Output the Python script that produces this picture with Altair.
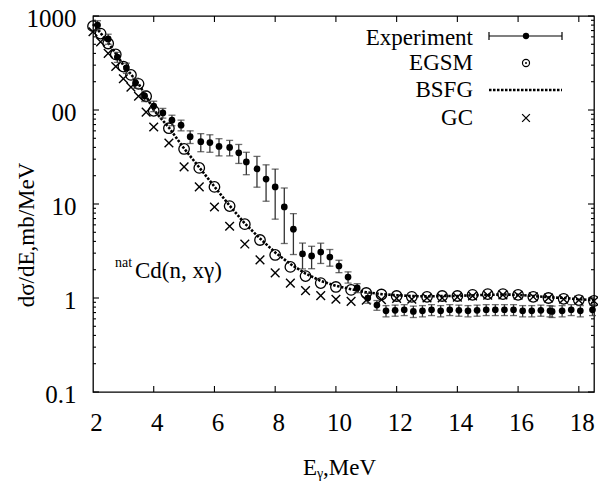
import altair as alt
import pandas as pd

# ---------------- data ----------------
exp_e = [2.15, 2.5, 2.8, 3.1, 3.4, 3.7, 4.0, 4.3, 4.6, 4.9, 5.2, 5.55, 5.85, 6.15,
         6.5, 6.8, 7.05, 7.4, 7.7, 8.0, 8.3, 8.6, 8.9, 9.2, 9.5, 9.8, 10.1, 10.4,
         10.7, 11.05, 11.35, 11.65, 11.95, 12.25, 12.55, 12.85, 13.15, 13.45, 13.75,
         14.05, 14.35, 14.65, 14.95, 15.25, 15.55, 15.85, 16.15, 16.45, 16.75,
         17.05, 17.12, 17.45, 17.75, 18.05, 18.45]
exp_v = [800, 570, 366, 280, 194, 141, 110, 93, 78, 69, 52, 46, 45, 41,
         40, 35, 28, 23.6, 18.4, 15.2, 9.3, 5.4, 2.94, 2.8, 3.08, 2.73, 2.19, 1.67,
         1.28, 1.0, 0.84, 0.73, 0.74, 0.75, 0.72, 0.73, 0.75, 0.73, 0.75,
         0.74, 0.73, 0.74, 0.75, 0.75, 0.75, 0.75, 0.73, 0.73, 0.74,
         0.73, 0.72, 0.73, 0.75, 0.73, 0.75]
exp_err = [90, 70, 45, 35, 24, 18, 14, 11, 10, 9, 8, 10, 9.5, 8.5,
           7.5, 8, 7.5, 8.5, 7.7, 8.3, 5.5, 2.5, 0.9, 0.75, 0.75, 0.55, 0.33, 0.23,
           0.14, 0.12, 0.1, 0.1, 0.1, 0.1, 0.1, 0.1, 0.1, 0.1, 0.1,
           0.1, 0.1, 0.1, 0.1, 0.1, 0.1, 0.1, 0.1, 0.1, 0.1,
           0.1, 0.1, 0.1, 0.1, 0.1, 0.1]

model_e = [2.0, 2.25, 2.5, 2.75, 3.0, 3.25, 3.5, 3.75, 4.0, 4.5, 5.0, 5.5, 6.0,
           6.5, 7.0, 7.5, 8.0, 8.5, 9.0, 9.5, 10.0, 10.5, 11.0, 11.5, 12.0, 12.5,
           13.0, 13.5, 14.0, 14.5, 15.0, 15.5, 16.0, 16.5, 17.0, 17.5, 18.0, 18.5]
egsm_v = [780, 650, 510, 390, 290, 236, 190, 140, 98, 64, 38.5, 24.2, 15.2,
          9.5, 6.1, 4.14, 2.87, 2.14, 1.71, 1.44, 1.31, 1.22, 1.13, 1.09, 1.05, 1.03,
          1.03, 1.05, 1.05, 1.08, 1.10, 1.10, 1.08, 1.03, 1.0, 0.98, 0.95, 0.93]
bsfg_v = [820, 660, 520, 400, 300, 240, 190, 140, 100, 65, 39, 24.5, 15.3,
          9.6, 6.2, 4.3, 3.05, 2.3, 1.82, 1.52, 1.35, 1.24, 1.15, 1.1, 1.07, 1.05,
          1.04, 1.05, 1.05, 1.07, 1.08, 1.09, 1.08, 1.05, 1.02, 1.0, 0.97, 0.95]
gc_v = [680, 530, 400, 290, 215, 175, 140, 95, 66, 44.6, 24.8, 15.2, 9.3,
        5.8, 3.75, 2.54, 1.85, 1.44, 1.2, 1.06, 0.97, 0.92, 0.95, 0.96, 0.99, 0.97,
        1.0, 1.0, 1.02, 1.05, 1.07, 1.08, 1.07, 1.03, 1.0, 0.97, 0.95, 0.93]

x_ticks = [2, 4, 6, 8, 10, 12, 14, 16, 18]
y_ticks = [0.1, 1, 10, 100, 1000]
y_tick_labels = ["0.1", "1", "10", "00", "1000"]
y_minor = [m * 10.0 ** k for k in range(-1, 3) for m in range(2, 10)]
legend_labels = ["Experiment", "EGSM", "BSFG", "GC"]
y_title = "dσ/dE,mb/MeV"
reaction_sup = "nat"
reaction = "Cd(n, xγ)"

# ---------------- chart ----------------
FONT = "'Liberation Serif', 'DejaVu Serif', serif"
W, H = 501, 376

exp = pd.DataFrame({"e": exp_e, "v": exp_v, "err": exp_err})
exp["lo"] = exp["v"] - exp["err"]
exp["hi"] = exp["v"] + exp["err"]
mod = pd.DataFrame({"e": model_e, "egsm": egsm_v, "bsfg": bsfg_v, "gc": gc_v})
one = pd.DataFrame({"k": [0]})

xs = alt.Scale(domain=[2, 18.5], nice=False, zero=False)
ys = alt.Scale(type="log", domain=[0.1, 1000], nice=False)

label_expr = " : ".join(
    f"datum.value < {v * 1.01} ? '{lab}'" for v, lab in zip(y_ticks, y_tick_labels)
) + " : ''"

x_axis = alt.Axis(values=x_ticks, title=None, grid=False, domain=False, tickSize=0,
                  labelFont=FONT, labelFontSize=25, labelColor="black",
                  labelPadding=18, labelFlush=False, labelOffset=3)
y_axis = alt.Axis(values=y_ticks, title=None, grid=False, domain=False, tickSize=0,
                  labelFont=FONT, labelFontSize=25, labelColor="black",
                  labelPadding=17, labelExpr=label_expr, labelOffset=2)


def X(f):
    return alt.X(f"{f}:Q", scale=xs, axis=x_axis)


def Y(f):
    return alt.Y(f"{f}:Q", scale=ys, axis=y_axis)


layers = []

# tick marks (inward) on all four sides
ymaj = pd.DataFrame({"y": y_ticks})
ymin = pd.DataFrame({"y": y_minor})
xt = pd.DataFrame({"x": x_ticks[1:]})
tick_style = dict(color="black", strokeWidth=1.1)
layers += [
    alt.Chart(ymaj).mark_rule(**tick_style).encode(y=Y("y"), x=alt.value(0), x2=alt.value(6)),
    alt.Chart(ymin).mark_rule(**tick_style).encode(y=Y("y"), x=alt.value(0), x2=alt.value(3)),
    alt.Chart(ymaj).mark_rule(**tick_style).encode(y=Y("y"), x=alt.value(W), x2=alt.value(W - 6)),
    alt.Chart(ymin).mark_rule(**tick_style).encode(y=Y("y"), x=alt.value(W), x2=alt.value(W - 3)),
    alt.Chart(xt).mark_rule(**tick_style).encode(x=X("x"), y=alt.value(H), y2=alt.value(H - 6)),
    alt.Chart(xt).mark_rule(**tick_style).encode(x=X("x"), y=alt.value(0), y2=alt.value(6)),
]

# BSFG dotted line
layers.append(
    alt.Chart(mod).mark_line(color="black", strokeWidth=2.6, strokeDash=[2.5, 1.5]).encode(
        x=X("e"), y=Y("bsfg"))
)
# EGSM open circles
layers.append(
    alt.Chart(mod).mark_point(shape="circle", filled=False, color="black", size=110,
                              strokeWidth=1.3, opacity=1).encode(x=X("e"), y=Y("egsm"))
)
# GC crosses
cross = "M-1,-1L1,1M-1,1L1,-1"
layers.append(
    alt.Chart(mod).mark_point(shape=cross, filled=False, color="black", size=75,
                              strokeWidth=1.4, opacity=1).encode(x=X("e"), y=Y("gc"))
)
# Experiment error bars + points
layers += [
    alt.Chart(exp).mark_rule(color="#333", strokeWidth=1.3).encode(
        x=X("e"), y=Y("lo"), y2=alt.Y2("hi")),
    alt.Chart(exp).mark_tick(orient="horizontal", size=7, thickness=1.3, color="#333").encode(
        x=X("e"), y=Y("hi")),
    alt.Chart(exp).mark_tick(orient="horizontal", size=7, thickness=1.3, color="#333").encode(
        x=X("e"), y=Y("lo")),
    alt.Chart(exp).mark_point(shape="circle", filled=True, color="black", size=45,
                              opacity=1).encode(x=X("e"), y=Y("v")),
]

# ---------------- legend (drawn by hand) ----------------
leg_y = [22, 47, 74, 102]
for lab, yy in zip(legend_labels, leg_y):
    layers.append(
        alt.Chart(one).mark_text(text=lab, font=FONT, fontSize=23, color="black",
                                 align="right", baseline="middle").encode(
            x=alt.value(380), y=alt.value(yy))
    )
lx1, lx2, lxc = 396, 469, 433
layers += [
    alt.Chart(one).mark_rule(color="black", strokeWidth=1.2).encode(
        x=alt.value(lx1), x2=alt.value(lx2), y=alt.value(20)),
    alt.Chart(one).mark_rule(color="black", strokeWidth=1.2).encode(
        x=alt.value(lx1), y=alt.value(16), y2=alt.value(24)),
    alt.Chart(one).mark_rule(color="black", strokeWidth=1.2).encode(
        x=alt.value(lx2), y=alt.value(16), y2=alt.value(24)),
    alt.Chart(one).mark_point(shape="circle", filled=True, color="black", size=40,
                              opacity=1).encode(x=alt.value(lxc), y=alt.value(20)),
    alt.Chart(one).mark_point(shape="circle", filled=False, color="black", size=50,
                              strokeWidth=1.2, opacity=1).encode(x=alt.value(lxc), y=alt.value(47)),
    alt.Chart(one).mark_point(shape="circle", filled=True, color="black", size=4,
                              opacity=1).encode(x=alt.value(lxc), y=alt.value(47)),
    alt.Chart(one).mark_rule(color="black", strokeWidth=2.6, strokeDash=[2.5, 1.5]).encode(
        x=alt.value(lx1), x2=alt.value(lx2), y=alt.value(74)),
    alt.Chart(one).mark_point(shape=cross, filled=False, color="black", size=60,
                              strokeWidth=1.3, opacity=1).encode(x=alt.value(lxc), y=alt.value(102)),
]

# ---------------- annotations & axis titles ----------------
layers += [
    alt.Chart(one).mark_text(text=reaction_sup, font=FONT, fontSize=14, color="black",
                             align="left", baseline="alphabetic").encode(
        x=alt.value(22), y=alt.value(251)),
    alt.Chart(one).mark_text(text=reaction, font=FONT, fontSize=23, color="black",
                             align="left", baseline="alphabetic").encode(
        x=alt.value(42), y=alt.value(262)),
    alt.Chart(one).mark_text(text=y_title, font=FONT, fontSize=23, color="black",
                             align="center", baseline="middle", angle=270).encode(
        x=alt.value(-66), y=alt.value(219)),
    alt.Chart(one).mark_text(text="E", font=FONT, fontSize=23, color="black",
                             align="left", baseline="alphabetic").encode(
        x=alt.value(210), y=alt.value(459)),
    alt.Chart(one).mark_text(text="γ", font=FONT, fontSize=14, color="black",
                             align="left", baseline="alphabetic").encode(
        x=alt.value(224), y=alt.value(462)),
    alt.Chart(one).mark_text(text=",MeV", font=FONT, fontSize=23, color="black",
                             align="left", baseline="alphabetic").encode(
        x=alt.value(230), y=alt.value(459)),
]

chart = alt.layer(*layers).properties(
    width=W, height=H,
    padding={"left": 93, "top": 16, "right": 4, "bottom": 90},
    autosize=alt.AutoSizeParams(type="none"),
    background="white",
).configure_view(stroke="black", strokeWidth=1.3)

chart.save("out.html", embed_options={"renderer": "svg", "actions": False})
